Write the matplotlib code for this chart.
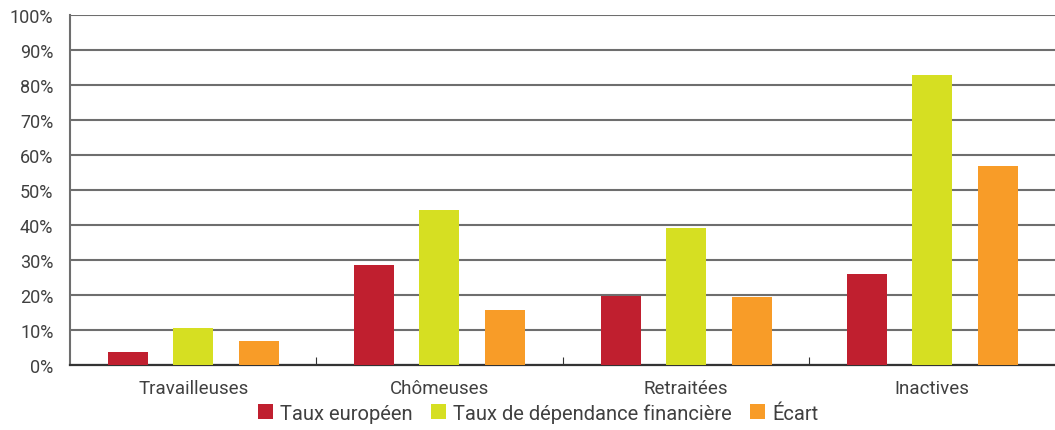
import numpy as np
import matplotlib.pyplot as plt
from matplotlib.ticker import FixedLocator, PercentFormatter

categories = ['Travailleuses', 'Chômeuses', 'Retraitées', 'Inactives']
taux_europeen = [3.7, 28.6, 19.7, 26.0]
taux_dependance = [10.6, 44.3, 39.1, 82.9]
ecart = [6.9, 15.7, 19.4, 56.9]
series_labels = ['Taux européen', 'Taux de dépendance financière', 'Écart']
colors = ['#c01f2f', '#d6df22', '#f89c28']

plt.rcParams['font.family'] = ['Roboto', 'DejaVu Sans']
text_color = '#404040'

fig = plt.figure(figsize=(10.55, 4.31), dpi=100)
ax = fig.add_axes([0.0664, 0.151, 0.9336, 0.812])

x = np.arange(len(categories))
width = 0.163
offsets = [-0.264, 0, 0.268]
for vals, off, col, lab in zip([taux_europeen, taux_dependance, ecart], offsets, colors, series_labels):
    ax.bar(x + off, vals, width, color=col, label=lab, zorder=3)

ax.set_xlim(-0.5, 3.5)
ax.set_ylim(0, 100)
ax.set_yticks(range(0, 101, 10))
ax.yaxis.set_major_formatter(PercentFormatter(decimals=0))
ax.grid(axis='y', color='#6e6e6e', linewidth=1.5, zorder=1)

# category labels at centers, small ticks at boundaries
ax.xaxis.set_major_locator(FixedLocator([0.5, 1.5, 2.5]))
ax.xaxis.set_minor_locator(FixedLocator(x))
ax.set_xticklabels([], minor=False)
ax.set_xticklabels(categories, minor=True)
ax.tick_params(axis='x', which='major', direction='in', length=6, color='#333333')
ax.tick_params(axis='x', which='minor', length=0, pad=10, labelsize=13.5, labelcolor=text_color)
ax.tick_params(axis='y', length=0, pad=12, labelsize=13, labelcolor=text_color)

for s in ['top', 'right']:
    ax.spines[s].set_visible(False)
ax.spines['left'].set_color('#6e6e6e')
ax.spines['left'].set_linewidth(1.5)
ax.spines['bottom'].set_color('#333333')
ax.spines['bottom'].set_linewidth(1.6)

fig.legend(loc='lower center', bbox_to_anchor=(0.51, -0.025), ncol=3, frameon=False,
           fontsize=14.5, handlelength=0.75, handleheight=0.75, handletextpad=0.35,
           columnspacing=0.9, labelcolor=text_color)

fig.savefig('out.png', dpi=100)
